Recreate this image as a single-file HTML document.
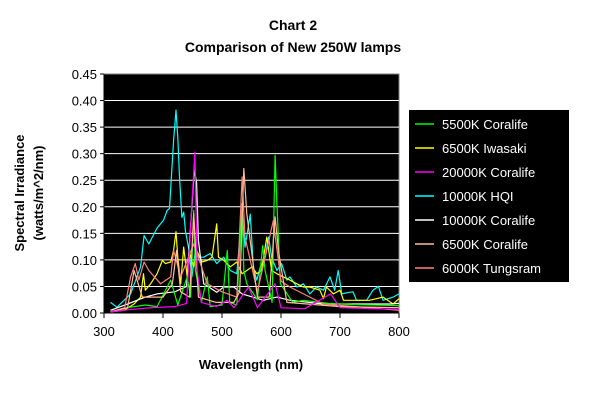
<!DOCTYPE html>
<html><head><meta charset="utf-8"><style>
body{margin:0;background:#fff;}
svg{display:block;font-family:"Liberation Sans",Arial,sans-serif;}
</style></head><body>
<svg id="c" width="600" height="400" xmlns="http://www.w3.org/2000/svg">
<text x="293" y="30" text-anchor="middle" font-size="14" font-weight="bold">Chart 2</text>
<text x="293" y="52" text-anchor="middle" font-size="14" font-weight="bold">Comparison of New 250W lamps</text>
<rect x="104" y="74" width="295" height="239" fill="#000" stroke="#808080"/>
<g id="grid"></g><g id="series"></g><g id="axes"></g>
<text transform="translate(24,193) rotate(-90)" text-anchor="middle" font-size="13" font-weight="bold"><tspan x="0" dy="0">Spectral Irradiance</tspan><tspan x="0" dy="19">(watts/m^2/nm)</tspan></text>
<text x="251" y="369" text-anchor="middle" font-size="13" font-weight="bold">Wavelength (nm)</text>
<rect x="409" y="110" width="160" height="172" fill="#000"/>
<g id="legend"></g>
</svg>
<script>
const yTicks=[0,0.05,0.1,0.15,0.2,0.25,0.3,0.35,0.4,0.45];
const yTickLabels=["0.00","0.05","0.10","0.15","0.20","0.25","0.30","0.35","0.40","0.45"];
const xTicks=[300,400,500,600,700,800];
const seriesNames=["5500K Coralife","6500K Iwasaki","20000K Coralife","10000K HQI","10000K Coralife","6500K Coralife","6000K Tungsram"];
const seriesColors=["#00ff00","#ffff00","#ff00ff","#00ffff","#ffffff","#ffc090","#ff8080"];
const hqiWl=[311,322,345,362,368,376,390,401,407,411,418,422,425,428,432,435,438,444,449,455,460,469,480,491,503,514,525,534,539,548,553,559,565,573,579,584,593,601,610,615,627,638,649,660,672,683,691,697,703,711,722,728,745,756,765,773,790,800];
const hqiVal=[0.020,0.011,0.036,0.087,0.146,0.130,0.160,0.175,0.193,0.197,0.325,0.382,0.330,0.256,0.180,0.190,0.155,0.118,0.068,0.118,0.105,0.105,0.112,0.093,0.105,0.080,0.074,0.193,0.124,0.186,0.087,0.062,0.087,0.105,0.143,0.105,0.080,0.093,0.062,0.068,0.049,0.055,0.036,0.049,0.043,0.068,0.043,0.080,0.036,0.038,0.040,0.024,0.024,0.043,0.050,0.024,0.030,0.036];
const iwaWl=[311,334,351,362,367,370,379,390,399,404,413,418,422,425,430,435,441,446,452,457,466,475,483,491,494,503,514,525,534,542,551,559,567,576,584,593,604,615,627,638,649,666,672,677,689,700,706,728,750,773,790,800];
const iwaVal=[0.002,0.005,0.017,0.030,0.074,0.043,0.055,0.074,0.099,0.093,0.096,0.118,0.153,0.105,0.055,0.124,0.068,0.111,0.087,0.118,0.096,0.099,0.105,0.168,0.105,0.099,0.087,0.096,0.074,0.080,0.087,0.074,0.080,0.143,0.080,0.074,0.068,0.062,0.055,0.049,0.049,0.043,0.027,0.049,0.036,0.043,0.024,0.024,0.024,0.030,0.017,0.027];
const grnWl=[311,340,370,390,413,425,441,447,452,455,465,475,480,500,509,513,525,534,537,542,560,569,573,585,590,593,599,620,638,680,720,800];
const grnVal=[0.002,0.010,0.015,0.012,0.062,0.015,0.068,0.030,0.193,0.080,0.020,0.068,0.012,0.015,0.118,0.020,0.015,0.206,0.080,0.055,0.025,0.127,0.080,0.020,0.297,0.206,0.055,0.020,0.024,0.018,0.016,0.014];
const magWl=[311,340,380,420,440,449,454,458,465,490,509,520,545,560,590,600,640,684,700,760,800];
const magVal=[0.002,0.006,0.010,0.012,0.018,0.206,0.303,0.080,0.020,0.012,0.024,0.010,0.049,0.010,0.055,0.010,0.008,0.036,0.010,0.008,0.007];
const whtWl=[311,340,370,390,420,440,449,453,457,460,469,491,503,520,534,570,593,615,672,784,800];
const whtVal=[0.005,0.017,0.030,0.036,0.040,0.050,0.200,0.270,0.245,0.137,0.055,0.039,0.049,0.049,0.036,0.024,0.030,0.024,0.017,0.017,0.018];
const corWl=[311,340,351,365,400,416,423,430,445,452,460,490,520,530,537,542,560,580,590,596,610,700,800];
const corVal=[0.002,0.010,0.080,0.030,0.030,0.055,0.118,0.040,0.030,0.187,0.030,0.020,0.020,0.040,0.272,0.187,0.030,0.030,0.181,0.115,0.020,0.012,0.010];
const tunWl=[311,335,345,353,359,368,376,396,413,418,430,452,475,500,525,534,539,560,587,600,615,672,800];
const tunVal=[0.002,0.010,0.068,0.093,0.062,0.096,0.080,0.055,0.068,0.118,0.068,0.130,0.055,0.040,0.030,0.256,0.143,0.040,0.174,0.060,0.049,0.017,0.005];
const seriesWl=[grnWl,iwaWl,magWl,hqiWl,whtWl,corWl,tunWl];
const seriesVal=[grnVal,iwaVal,magVal,hqiVal,whtVal,corVal,tunVal];
const drawOrder=[3,1,4,0,6,5,2];

const X0=104,X1=399,Y0=313,Y1=74;
const xs=w=>X0+(w-300)/(800-300)*(X1-X0);
const ys=v=>Y0-v/0.45*(Y0-Y1);
const NS="http://www.w3.org/2000/svg";
function mk(parent,tag,attrs){const e=document.createElementNS(NS,tag);for(const k in attrs)e.setAttribute(k,attrs[k]);document.getElementById(parent).appendChild(e);return e;}

yTicks.forEach((t,i)=>{
  if(t>0&&t<0.45){const g=mk('grid','line',{x1:X0,x2:X1,y1:ys(t),y2:ys(t),stroke:'#fff','stroke-width':1});
  
  }
  const tk=mk('axes','line',{x1:X0-4,x2:X0,y1:ys(t),y2:ys(t),stroke:'#000'});
  
  
  const tx=mk('axes','text',{x:X0-7,y:ys(t)+5,'text-anchor':'end','font-size':13});
  tx.textContent=yTickLabels[i];
  
  
});
xTicks.forEach(t=>{
  const tk=mk('axes','line',{x1:xs(t),x2:xs(t),y1:Y0,y2:Y0+5,stroke:'#000'});
  
  
  const tx=mk('axes','text',{x:xs(t),y:Y0+23,'text-anchor':'middle','font-size':13});
  tx.textContent=String(t);
  
  
});
const ax=mk('axes','line',{x1:X0,x2:X1,y1:Y0,y2:Y0,stroke:'#000'});


const ay=mk('axes','line',{x1:X0,x2:X0,y1:Y1,y2:Y0,stroke:'#000'});



drawOrder.forEach(i=>{
  const pts=seriesWl[i].map((w,j)=>xs(w).toFixed(1)+','+ys(seriesVal[i][j]).toFixed(1)).join(' ');
  const p=mk('series','polyline',{points:pts,fill:'none',stroke:seriesColors[i],'stroke-width':1.2,'stroke-linejoin':'round'});
  
  
});
seriesNames.forEach((n,i)=>{
  const y=124+i*24;
  const l=mk('legend','line',{x1:415,x2:434,y1:y,y2:y,stroke:seriesColors[i],'stroke-width':1.5});
  
  
  const t=mk('legend','text',{x:442,y:y+5,'font-size':13,fill:'#fff'});
  t.textContent=n;
  
  
});
</script>
</body></html>
